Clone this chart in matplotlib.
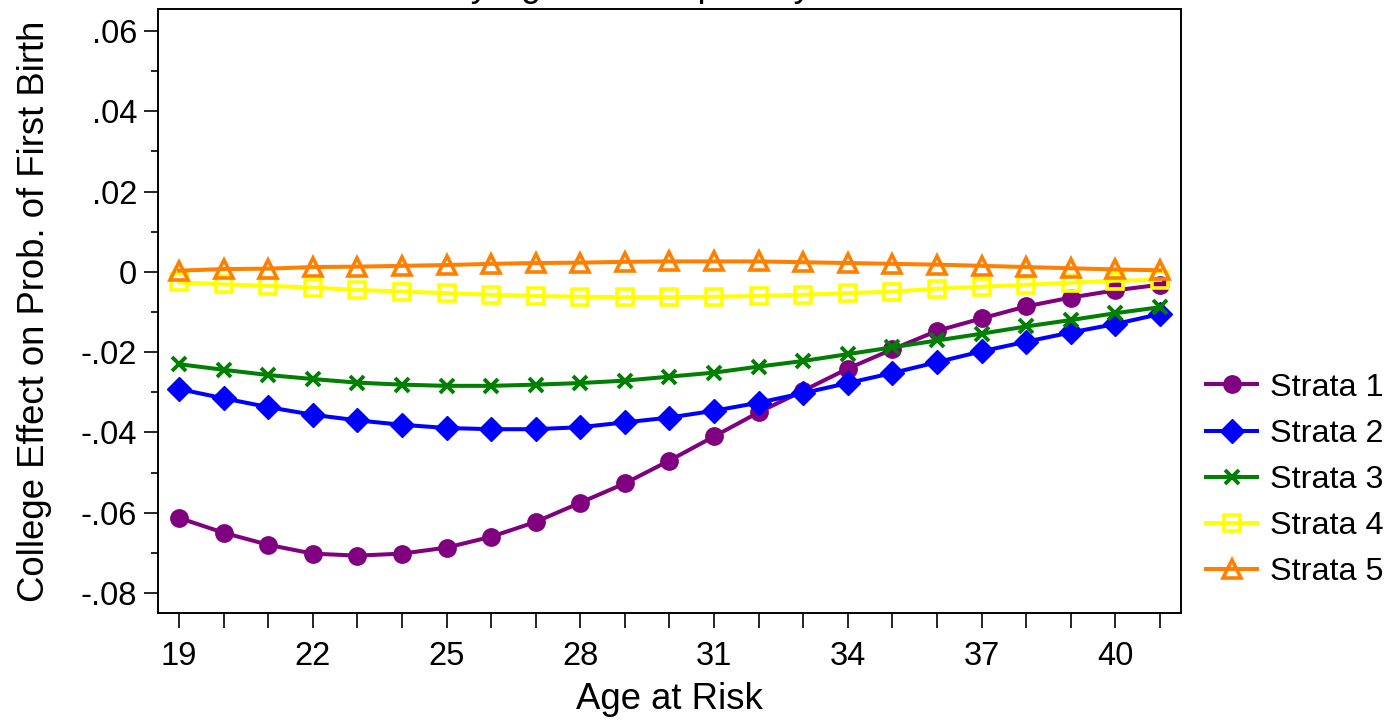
import numpy as np
import matplotlib
matplotlib.use('Agg')
import matplotlib.pyplot as plt
from matplotlib.ticker import MultipleLocator, FixedLocator

plt.rcParams['font.family'] = ['Liberation Sans', 'DejaVu Sans']

age = np.arange(19, 42)

strata1 = [-0.0613, -0.0650, -0.0680, -0.0702, -0.0707, -0.0702, -0.0687, -0.0660,
           -0.0623, -0.0575, -0.0527, -0.0470, -0.0410, -0.0350, -0.0296, -0.0241,
           -0.0193, -0.0147, -0.0116, -0.0086, -0.0064, -0.0046, -0.0032]
strata2 = [-0.0292, -0.0315, -0.0337, -0.0356, -0.0370, -0.0381, -0.0389, -0.0392,
           -0.0392, -0.0387, -0.0375, -0.0363, -0.0346, -0.0326, -0.0302, -0.0277,
           -0.0252, -0.0225, -0.0198, -0.0174, -0.0151, -0.0130, -0.0105]
strata3 = [-0.0230, -0.0244, -0.0257, -0.0267, -0.0276, -0.0281, -0.0284, -0.0284,
           -0.0281, -0.0277, -0.0271, -0.0261, -0.0251, -0.0236, -0.0222, -0.0205,
           -0.0188, -0.0171, -0.0154, -0.0136, -0.0120, -0.0103, -0.0088]
strata4 = [-0.0026, -0.0031, -0.0035, -0.0039, -0.0045, -0.0049, -0.0053, -0.0057,
           -0.0060, -0.0062, -0.0063, -0.0063, -0.0062, -0.0060, -0.0057, -0.0053,
           -0.0049, -0.0042, -0.0037, -0.0032, -0.0027, -0.0022, -0.0020]
strata5 = [0.0003, 0.0007, 0.0008, 0.0012, 0.0013, 0.0015, 0.0017, 0.0020,
           0.0022, 0.0023, 0.0025, 0.0026, 0.0026, 0.0026, 0.0024, 0.0022,
           0.0020, 0.0018, 0.0015, 0.0012, 0.0009, 0.0006, 0.0004]

labels = ['Strata 1', 'Strata 2', 'Strata 3', 'Strata 4', 'Strata 5']
yticks = [-0.08, -0.06, -0.04, -0.02, 0, 0.02, 0.04, 0.06]
ytick_labels = ['-.08', '-.06', '-.04', '-.02', '0', '.02', '.04', '.06']
xticks = [19, 22, 25, 28, 31, 34, 37, 40]

fig = plt.figure(figsize=(13.89, 7.23), dpi=100)
ax = fig.add_axes([0.1138, 0.1521, 0.7364, 0.8355])

lw = 2.9
ax.plot(age, strata1, color='#800080', lw=lw, marker='o', ms=12.5, label=labels[0])
ax.plot(age, strata2, color='#0000ff', lw=lw, marker='D', ms=12.5, label=labels[1])
ax.plot(age, strata3, color='#008000', lw=lw, marker='x', ms=10.5, mew=2.8, label=labels[2])
ax.plot(age, strata4, color='#ffff00', lw=lw, marker='s', ms=11.5, mew=2.6,
        mfc='none', label=labels[3])
ax.plot(age, strata5, color='#ff8000', lw=lw, marker='^', ms=13.5, mew=2.6,
        mfc='none', label=labels[4])

ax.set_xlim(18.53, 41.47)
ax.set_ylim(-0.085, 0.0655)

ax.set_yticks(yticks)
ax.set_yticklabels(ytick_labels)
ax.yaxis.set_minor_locator(MultipleLocator(0.01))
ax.set_xticks(xticks)
ax.xaxis.set_minor_locator(FixedLocator(age))

ax.tick_params(axis='y', which='major', length=10, width=1.2, pad=5, labelsize=23.5)
ax.tick_params(axis='y', which='minor', length=5, width=1.2)
ax.tick_params(axis='x', which='both', length=11, width=1.2, pad=9, labelsize=23.5)
for s in ax.spines.values():
    s.set_linewidth(1.4)

ax.set_xlabel('Age at Risk', fontsize=26.3, labelpad=7)
ax.set_ylabel('College Effect on Prob. of First Birth', fontsize=26.3, labelpad=21)

# title sits above the top edge, only its descenders show
fig.text(0.4935, 1.006, 'Effect by Age and Propensity Score Strata', fontsize=26,
         ha='center', va='baseline')

ax.legend(loc='center left', bbox_to_anchor=(0.868, 0.336), bbox_transform=fig.transFigure,
          frameon=False, fontsize=23.3, handlelength=1.6, handletextpad=0.4,
          labelspacing=0.5, borderpad=0, borderaxespad=0)

plt.savefig('out.png', dpi=100)
